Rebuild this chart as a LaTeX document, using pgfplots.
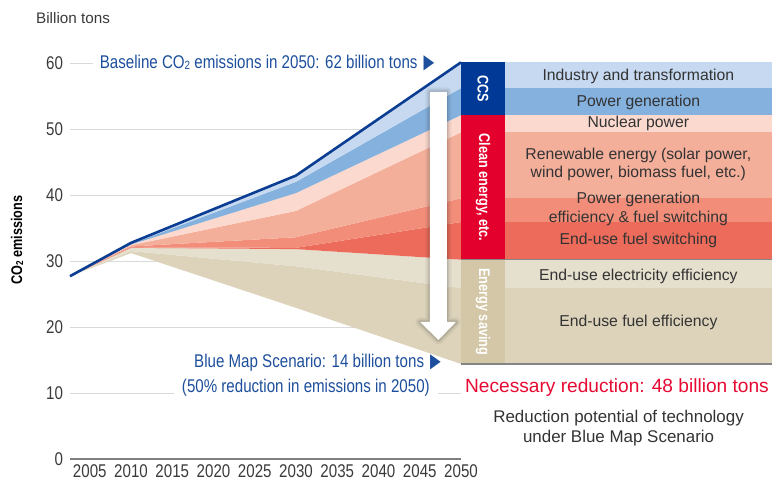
\documentclass[border=0pt]{standalone}
\usepackage{fontspec}
\usepackage{graphicx}
\setmainfont{Liberation Sans}
\newfontfamily\cond{Liberation Sans}[FakeStretch=0.82]
\newfontfamily\sym{DejaVu Sans}
\usepackage{pgfplots}
\pgfplotsset{compat=1.18}
\newcommand\fs[1]{\fontsize{#1}{#1}\selectfont}
\newcommand\tri{\scalebox{0.7}[1]{\sym\fs{20}▶}}
\definecolor{cIN}{HTML}{C6D9F0}
\definecolor{cCP}{HTML}{84B1DD}
\definecolor{cNU}{HTML}{FBD9CE}
\definecolor{cRE}{HTML}{F4AF9B}
\definecolor{cPE}{HTML}{F18D79}
\definecolor{cFS}{HTML}{EC6B5A}
\definecolor{cEE}{HTML}{E5DFCE}
\definecolor{cFE}{HTML}{DCD3BA}
\definecolor{cCCS}{HTML}{003A96}
\definecolor{cCLEAN}{HTML}{E3002C}
\definecolor{cSAVE}{HTML}{D3C7A7}
\definecolor{lineblue}{HTML}{0B3E93}
\definecolor{txtblue}{HTML}{1D4F9C}
\definecolor{txtred}{HTML}{E60A32}
\definecolor{txtgray}{HTML}{333333}
\definecolor{tickgray}{HTML}{3A3A3A}
\definecolor{gridgray}{HTML}{DADADA}
\definecolor{axisgray}{HTML}{7F7F7F}
\definecolor{sepgray}{HTML}{858585}
\begin{document}
\begin{tikzpicture}
\useasboundingbox (-70bp,-25bp) rectangle (706bp,459bp);
\begin{axis}[
  at={(0,0)}, anchor=south west,
  scale only axis, width=391bp, height=396bp,
  xmin=2002.6, xmax=2050, ymin=0, ymax=60,
  clip=false,
  axis x line*=bottom, axis y line*=left,
  x axis line style={draw=axisgray, line width=1.5bp, -},
  y axis line style={draw=none, -},
  xtick={2005,2010,...,2050}, ytick={0,10,...,50},
  extra y ticks={60}, extra y tick style={grid=none},
  major tick length=0pt,
  ymajorgrids, grid style={draw=gridgray, line width=1bp},
  /pgf/number format/assume math mode=true,
  /pgf/number format/1000 sep={},
  tick label style={font=\cond\fs{18.5}, text=tickgray},
  xticklabel style={yshift=-2.5bp},
  yticklabel style={xshift=-3.5bp},
]
% short grid stub at 60
\addplot[gridgray, line width=1bp] coordinates {(2002.6,60) (2005.4,60)};
% stacked bands (boundaries from Blue Map upward)
\addplot[fill=cFE, draw=none] coordinates {(2002.6,27.7)(2010,31.5)(2030,29.2)(2050,25.9)(2050,14.4)(2030,22.9)(2010,31.2)} -- cycle;
\addplot[fill=cEE, draw=none] coordinates {(2002.6,27.7)(2010,32.0)(2030,31.8)(2050,30.2)(2050,25.9)(2030,29.2)(2010,31.5)} -- cycle;
\addplot[fill=cFS, draw=none] coordinates {(2002.6,27.7)(2010,32.05)(2030,32.0)(2050,35.9)(2050,30.2)(2030,31.8)(2010,32.0)} -- cycle;
\addplot[fill=cPE, draw=none] coordinates {(2002.6,27.7)(2010,32.2)(2030,33.6)(2050,39.5)(2050,35.9)(2030,32.0)(2010,32.05)} -- cycle;
\addplot[fill=cRE, draw=none] coordinates {(2002.6,27.7)(2010,32.4)(2030,37.6)(2050,49.5)(2050,39.5)(2030,33.6)(2010,32.2)} -- cycle;
\addplot[fill=cNU, draw=none] coordinates {(2002.6,27.7)(2010,32.5)(2030,40.3)(2050,52.1)(2050,49.5)(2030,37.6)(2010,32.4)} -- cycle;
\addplot[fill=cCP, draw=none] coordinates {(2002.6,27.7)(2010,32.6)(2030,42.0)(2050,56.2)(2050,52.1)(2030,40.3)(2010,32.5)} -- cycle;
\addplot[fill=cIN, draw=none] coordinates {(2002.6,27.7)(2010,32.75)(2030,42.95)(2050,60.1)(2050,56.2)(2030,42.0)(2010,32.6)} -- cycle;
% white arrow with soft shadow
\draw[line width=9bp, black, opacity=0.05, line join=round] (axis cs:2046.24,55.61) -- (axis cs:2048.30,55.61) -- (axis cs:2048.30,20.76) -- (axis cs:2049.39,20.76) -- (axis cs:2047.27,18.03) -- (axis cs:2045.03,20.76) -- (axis cs:2046.24,20.76) -- cycle;
\draw[line width=5bp, black, opacity=0.07, line join=round] (axis cs:2046.24,55.61) -- (axis cs:2048.30,55.61) -- (axis cs:2048.30,20.76) -- (axis cs:2049.39,20.76) -- (axis cs:2047.27,18.03) -- (axis cs:2045.03,20.76) -- (axis cs:2046.24,20.76) -- cycle;
\draw[line width=2.5bp, black, opacity=0.09, line join=round] (axis cs:2046.24,55.61) -- (axis cs:2048.30,55.61) -- (axis cs:2048.30,20.76) -- (axis cs:2049.39,20.76) -- (axis cs:2047.27,18.03) -- (axis cs:2045.03,20.76) -- (axis cs:2046.24,20.76) -- cycle;
\fill[white] (axis cs:2046.24,55.61) -- (axis cs:2048.30,55.61) -- (axis cs:2048.30,20.76) -- (axis cs:2049.39,20.76) -- (axis cs:2047.27,18.03) -- (axis cs:2045.03,20.76) -- (axis cs:2046.24,20.76) -- cycle;
% right panel: technology bands at 2050
\addplot[fill=cIN, draw=none] coordinates {(2050,56.2)(2087.7,56.2)(2087.7,60.1)(2050,60.1)} -- cycle;
\addplot[fill=cCP, draw=none] coordinates {(2050,52.1)(2087.7,52.1)(2087.7,56.2)(2050,56.2)} -- cycle;
\addplot[fill=cNU, draw=none] coordinates {(2050,49.5)(2087.7,49.5)(2087.7,52.1)(2050,52.1)} -- cycle;
\addplot[fill=cRE, draw=none] coordinates {(2050,39.5)(2087.7,39.5)(2087.7,49.5)(2050,49.5)} -- cycle;
\addplot[fill=cPE, draw=none] coordinates {(2050,35.9)(2087.7,35.9)(2087.7,39.5)(2050,39.5)} -- cycle;
\addplot[fill=cFS, draw=none] coordinates {(2050,30.2)(2087.7,30.2)(2087.7,35.9)(2050,35.9)} -- cycle;
\addplot[fill=cEE, draw=none] coordinates {(2050,25.9)(2087.7,25.9)(2087.7,30.2)(2050,30.2)} -- cycle;
\addplot[fill=cFE, draw=none] coordinates {(2050,14.4)(2087.7,14.4)(2087.7,25.9)(2050,25.9)} -- cycle;
% category boxes
\addplot[fill=cCCS, draw=none] coordinates {(2050,52.1)(2055.33,52.1)(2055.33,60.1)(2050,60.1)} -- cycle;
\addplot[fill=cCLEAN, draw=none] coordinates {(2050,30.2)(2055.33,30.2)(2055.33,52.1)(2050,52.1)} -- cycle;
\addplot[fill=cSAVE, draw=none] coordinates {(2050,14.4)(2055.33,14.4)(2055.33,30.2)(2050,30.2)} -- cycle;
\addplot[sepgray, line width=1.3bp] coordinates {(2050,30.2)(2087.7,30.2)};
\addplot[sepgray, line width=1.5bp] coordinates {(2050,14.4)(2087.7,14.4)};
% baseline emissions line
\addplot[lineblue, line width=2.6bp, line join=round] coordinates {(2002.6,27.7)(2010,32.75)(2030,42.95)(2050,60.1)};
% category labels
\node[rotate=-90, text=white, font=\cond\bfseries\fs{15.5}] at (axis cs:2052.67,56.15) {CCS};
\node[rotate=-90, text=white, font=\cond\bfseries\fs{15.5}] at (axis cs:2052.67,41.15) {Clean energy, etc.};
\node[rotate=-90, text=white, font=\cond\bfseries\fs{15.5}] at (axis cs:2052.67,22.3) {Energy saving};
% band labels
\begin{scope}[every node/.style={text=txtgray, font=\fs{15.8}, align=center, inner sep=0pt}]
\node at (axis cs:2071.5,58.03) {Industry and transformation};
\node at (axis cs:2071.5,54.1) {Power generation};
\node at (axis cs:2071.5,50.9) {Nuclear power};
\node[font=\fontsize{15.8}{18}\selectfont] at (axis cs:2071.5,44.6) {Renewable energy (solar power,\\wind power, biomass fuel, etc.)};
\node[font=\fontsize{15.8}{19}\selectfont] at (axis cs:2071.5,37.95) {Power generation\\efficiency \& fuel switching};
\node at (axis cs:2071.5,33.1) {End-use fuel switching};
\node at (axis cs:2071.5,27.7) {End-use electricity efficiency};
\node at (axis cs:2071.5,20.65) {End-use fuel efficiency};
\end{scope}
% annotations
\node[anchor=west, text=txtblue, font=\cond\fs{18.5}, inner sep=0pt] at (axis cs:2006.2,60) {Baseline CO{\fs{12}\raisebox{-1bp}{2}} emissions in 2050: 62 billion tons\hspace{6bp}\tri};
\node[anchor=east, text=txtblue, font=\cond\fs{18.5}, inner sep=0pt] at (axis cs:2047.58,14.55) {Blue Map Scenario: 14 billion tons\hspace{6bp}\tri};
\node[anchor=east, text=txtblue, font=\cond\fs{18.5}, fill=white, inner xsep=8bp, inner ysep=1bp] at (axis cs:2047.21,10.76) {(50\% reduction in emissions in 2050)};
\node[text=txtred, font=\fs{19.2}, inner sep=0pt] at (axis cs:2068.91,10.8) {Necessary reduction: 48 billion tons};
\node[text=txtgray, font=\fontsize{17}{20}\selectfont, align=center, inner sep=0pt] at (axis cs:2069.1,4.7) {Reduction potential of technology\\under Blue Map Scenario};
\end{axis}
\node[anchor=west, text=tickgray, font=\fs{15.3}, inner sep=0pt] at (-34bp,441bp) {Billion tons};
\node[rotate=90, text=black, font=\cond\bfseries\fs{15.5}, inner sep=0pt] at (-53bp,219bp) {CO{\fs{10}\raisebox{-1bp}{2}} emissions};
\end{tikzpicture}
\end{document}
